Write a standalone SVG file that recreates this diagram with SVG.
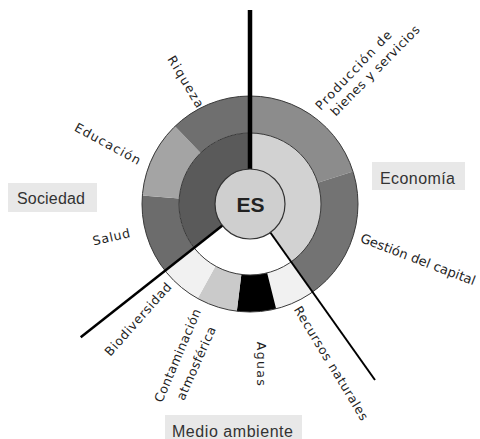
<svg xmlns="http://www.w3.org/2000/svg" width="480" height="439" viewBox="0 0 480 439">
  <style>
    .lbl { font-family: "DejaVu Sans", "Liberation Sans", sans-serif; font-size: 12.5px; fill: #1e1e1e; }
    .cat { font-family: "Liberation Sans", Arial, sans-serif; font-size: 16px; fill: #333; }
    .box { fill: #e8e8e8; }
    .seg { stroke: none; }
    .ring { fill: none; stroke: #3a3a3a; stroke-width: 1; }
    .axis { stroke: #000; fill: none; stroke-linecap: butt; }
  </style>
  <rect width="480" height="439" fill="#fff"/>

  <!-- inner ring: dimension sectors -->
  <g id="inner-sociedad"><path class="seg" fill="#5a5a5a" d="M250 204 L194.05 247.71 A71 71 0 0 1 250 133 Z"/></g>
  <g id="inner-economia"><path class="seg" fill="#d2d2d2" d="M250 204 L250 133 A71 71 0 0 1 291.23 261.8 Z"/></g>

  <!-- outer ring: Sociedad -->
  <g id="salud">
    <path class="seg" fill="#6c6c6c" d="M164.9 270.5 A108 108 0 0 1 142.33 195.52 L179.22 198.43 A71 71 0 0 0 194.05 247.71 Z"/>
    <text class="lbl" transform="translate(93.8,245.5) rotate(-13)" textLength="38" lengthAdjust="spacing">Salud</text>
  </g>
  <g id="educacion">
    <path class="seg" fill="#a4a4a4" d="M142.33 195.52 A108 108 0 0 1 174.97 126.32 L200.68 152.93 A71 71 0 0 0 179.22 198.43 Z"/>
    <text class="lbl" transform="translate(73.5,130.2) rotate(28.5)" textLength="73" lengthAdjust="spacing">Educación</text>
  </g>
  <g id="riqueza">
    <path class="seg" fill="#6f6f6f" d="M174.97 126.32 A108 108 0 0 1 250 96 L250 133 A71 71 0 0 0 200.68 152.93 Z"/>
    <text class="lbl" transform="translate(167,59) rotate(59)" textLength="58" lengthAdjust="spacing">Riqueza</text>
  </g>

  <!-- outer ring: Economía -->
  <g id="produccion">
    <path class="seg" fill="#8c8c8c" d="M250 96 A108 108 0 0 1 353 171.52 L317.71 182.65 A71 71 0 0 0 250 133 Z"/>
    <text class="lbl" transform="translate(320.8,110.9) rotate(-46.4)" textLength="104" lengthAdjust="spacing">Producción de</text>
    <text class="lbl" transform="translate(335.7,116.7) rotate(-45.5)" textLength="121" lengthAdjust="spacing">bienes y servicios</text>
  </g>
  <g id="gestion">
    <path class="seg" fill="#737373" d="M353 171.52 A108 108 0 0 1 312.72 291.92 L291.23 261.8 A71 71 0 0 0 317.71 182.65 Z"/>
    <text class="lbl" style="font-size:13px" transform="translate(359.4,241.7) rotate(21)" textLength="122" lengthAdjust="spacing">Gestión del capital</text>
  </g>

  <!-- outer ring: Medio ambiente -->
  <g id="recursos">
    <path class="seg" fill="#f1f1f1" d="M312.72 291.92 A108 108 0 0 1 276.13 308.79 L267.17 272.89 A71 71 0 0 0 291.23 261.8 Z"/>
    <text class="lbl" transform="translate(293.5,309.5) rotate(58.8)" textLength="131" lengthAdjust="spacing">Recursos naturales</text>
  </g>
  <g id="aguas">
    <path class="seg" fill="#000" d="M276.13 308.79 A108 108 0 0 1 236.83 311.19 L241.35 274.47 A71 71 0 0 0 267.17 272.89 Z"/>
    <text class="lbl" transform="translate(256.8,341.8) rotate(90)" textLength="44" lengthAdjust="spacing">Aguas</text>
  </g>
  <g id="contaminacion">
    <path class="seg" fill="#cacaca" d="M236.83 311.19 A108 108 0 0 1 197.64 298.46 L215.58 266.1 A71 71 0 0 0 241.35 274.47 Z"/>
    <text class="lbl" transform="translate(162.1,403.3) rotate(-67)" textLength="100" lengthAdjust="spacing">Contaminación</text>
    <text class="lbl" transform="translate(184,401.2) rotate(-66)" textLength="79" lengthAdjust="spacing">atmosférica</text>
  </g>
  <g id="biodiversidad">
    <path class="seg" fill="#f1f1f1" d="M197.64 298.46 A108 108 0 0 1 164.9 270.5 L194.05 247.71 A71 71 0 0 0 215.58 266.1 Z"/>
    <text class="lbl" transform="translate(110.3,356.9) rotate(-48.3)" textLength="93" lengthAdjust="spacing">Biodiversidad</text>
  </g>

  <!-- ring outlines -->
  <circle class="ring" cx="250" cy="204" r="108"/>
  <circle class="ring" cx="250" cy="204" r="71"/>

  <!-- dimension dividers -->
  <g id="connectors">
    <line class="axis" x1="250" y1="10" x2="250" y2="170" stroke-width="4.5"/>
    <line class="axis" x1="222.42" y1="225.55" x2="80.7" y2="337.3" stroke-width="2.5"/>
    <line class="axis" x1="270.32" y1="232.49" x2="375" y2="380" stroke-width="2"/>
  </g>

  <!-- centre -->
  <g id="es">
    <circle cx="250" cy="204" r="35" fill="#cfcfcf" stroke="#333" stroke-width="1.2"/>
    <text x="250.5" y="211.5" text-anchor="middle" font-family="Liberation Sans, Arial, sans-serif" font-size="21" font-weight="bold" fill="#222">ES</text>
  </g>

  <!-- dimension titles -->
  <g id="sociedad">
    <rect class="box" x="8" y="183" width="89" height="29"/>
    <text class="cat" x="17" y="204" textLength="68" lengthAdjust="spacing">Sociedad</text>
  </g>
  <g id="economia">
    <rect class="box" x="372" y="162" width="93" height="28"/>
    <text class="cat" x="380" y="183.5" textLength="75" lengthAdjust="spacing">Economía</text>
  </g>
  <g id="medio-ambiente">
    <rect class="box" x="165" y="415" width="137" height="26"/>
    <text class="cat" x="172" y="436.5" textLength="121" lengthAdjust="spacing">Medio ambiente</text>
  </g>
</svg>
